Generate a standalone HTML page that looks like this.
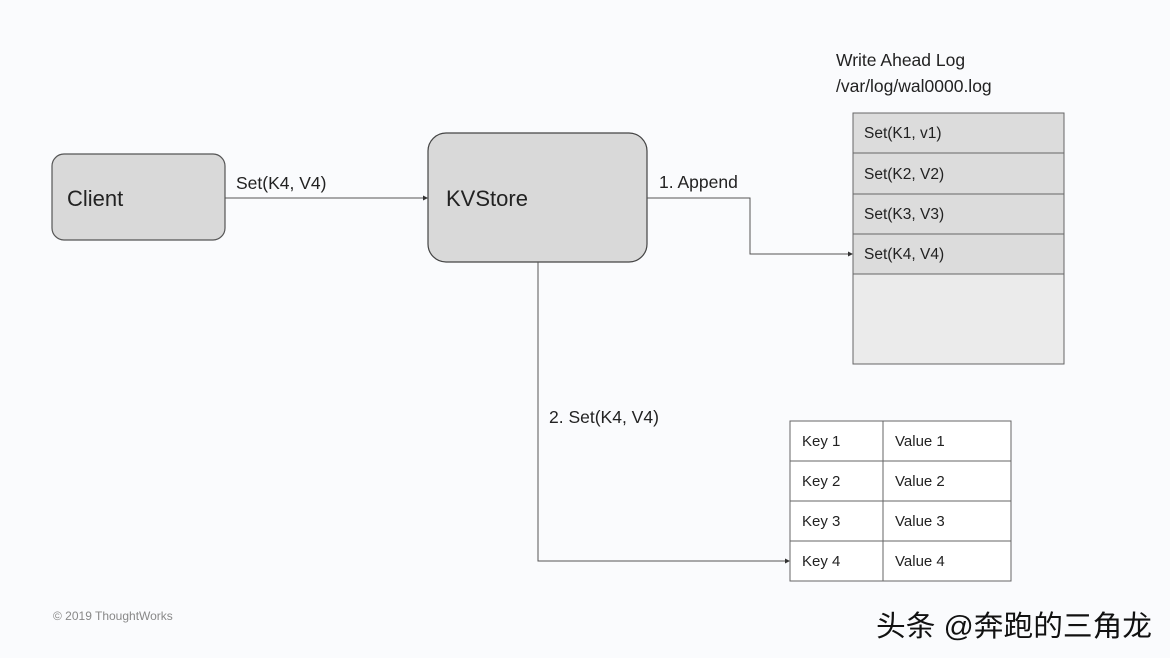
<!DOCTYPE html>
<html><head><meta charset="utf-8"><style>
html,body{margin:0;padding:0;background:#fafbfd;}
svg{display:block;font-family:"Liberation Sans","Noto Sans CJK SC",sans-serif;}
</style></head><body>
<svg width="1170" height="658" viewBox="0 0 1170 658">
<rect width="1170" height="658" fill="#fafbfd"/>
<rect x="52" y="154" width="173" height="86" rx="12" fill="#d9d9d9" stroke="#555" stroke-width="1.2"/>
<text x="67" y="206" font-size="22" fill="#222">Client</text>
<rect x="428" y="133" width="219" height="129" rx="18" fill="#d9d9d9" stroke="#444" stroke-width="1.2"/>
<text x="446" y="206" font-size="22" fill="#222">KVStore</text>
<g stroke="#555" stroke-width="1" fill="none">
<path d="M225 198H426"/>
<path d="M647 198H750V254H851"/>
<path d="M538 262V561H788"/>
</g>
<g fill="#333"><path d="M428 198l-5 -2.5v5z"/><path d="M853 254l-5 -2.5v5z"/><path d="M790 561l-5 -2.5v5z"/></g>
<text x="236" y="189" font-size="17.5" fill="#222">Set(K4, V4)</text>
<text x="659" y="188" font-size="17.5" fill="#222">1. Append</text>
<text x="549" y="423" font-size="17.5" fill="#222">2. Set(K4, V4)</text>
<text x="836" y="66" font-size="17.5" fill="#222">Write Ahead Log</text>
<text x="836" y="92" font-size="17.5" fill="#222">/var/log/wal0000.log</text>
<rect x="853" y="113" width="211" height="161" fill="#dcdcdc"/>
<rect x="853" y="274" width="211" height="90" fill="#ebebeb"/>
<rect x="853" y="113" width="211" height="251" fill="none" stroke="#666" stroke-width="1"/>
<g stroke="#666" stroke-width="1"><path d="M853 153H1064M853 194H1064M853 234H1064M853 274H1064"/></g>
<g font-size="15.5" fill="#222">
<text x="864" y="138">Set(K1, v1)</text>
<text x="864" y="179">Set(K2, V2)</text>
<text x="864" y="219">Set(K3, V3)</text>
<text x="864" y="259">Set(K4, V4)</text>
</g>
<rect x="790" y="421" width="221" height="160" fill="#fff" stroke="#666" stroke-width="1"/>
<g stroke="#666" stroke-width="1"><path d="M790 461H1011M790 501H1011M790 541H1011M883 421V581"/></g>
<g font-size="15" fill="#222">
<text x="802" y="446">Key 1</text><text x="895" y="446">Value 1</text>
<text x="802" y="486">Key 2</text><text x="895" y="486">Value 2</text>
<text x="802" y="526">Key 3</text><text x="895" y="526">Value 3</text>
<text x="802" y="566">Key 4</text><text x="895" y="566">Value 4</text>
</g>
<text x="53" y="620" font-size="12" fill="#888">© 2019 ThoughtWorks</text>
<text x="876" y="636" font-size="29" fill="#111" textLength="276" lengthAdjust="spacingAndGlyphs">头条 @奔跑的三角龙</text>
</svg>
</body></html>
